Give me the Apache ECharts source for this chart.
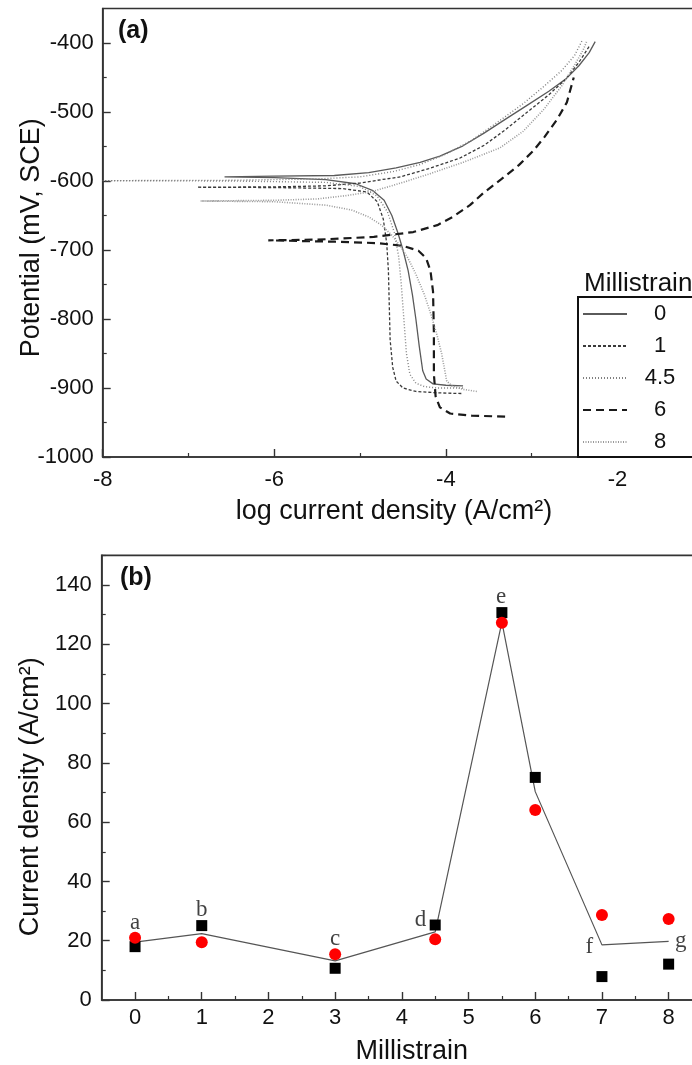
<!DOCTYPE html>
<html>
<head>
<meta charset="utf-8">
<script src="https://cdn.jsdelivr.net/npm/echarts@6/dist/echarts.min.js"></script>
<style>
  html, body { margin: 0; padding: 0; background: #fff; }
  #chart { width: 692px; height: 1065px; }
</style>
</head>
<body>
<div id="chart"></div>
<script>
// ---- panel (a): polarization curves, [log i, E (mV)] in scan order
const curve0 = [[-3.80,-897],[-4.00,-896],[-4.15,-894],[-4.23,-887],[-4.27,-875],[-4.31,-840],[-4.35,-800],[-4.39,-765],[-4.44,-730],[-4.50,-700],[-4.56,-675],[-4.63,-650],[-4.72,-628],[-4.85,-614],[-5.05,-604],[-5.40,-598],[-6.00,-595],[-6.58,-594],[-6.00,-593],[-5.30,-592],[-4.90,-588],[-4.58,-581],[-4.30,-573],[-4.07,-564],[-3.80,-549],[-3.56,-531],[-3.30,-510],[-3.05,-490],[-2.80,-470],[-2.60,-452],[-2.45,-433],[-2.33,-414],[-2.26,-398]];
const curve1 = [[-3.82,-908],[-4.10,-907],[-4.35,-905],[-4.50,-900],[-4.58,-890],[-4.62,-870],[-4.65,-830],[-4.66,-780],[-4.67,-730],[-4.69,-690],[-4.73,-655],[-4.80,-630],[-4.92,-616],[-5.20,-611],[-6.00,-609.5],[-6.90,-609],[-6.00,-608.5],[-5.40,-607],[-5.00,-603],[-4.75,-598],[-4.53,-594],[-4.20,-582],[-3.84,-567],[-3.55,-548],[-3.30,-525],[-3.05,-500],[-2.80,-475],[-2.60,-452],[-2.45,-428],[-2.33,-405]];
const curve45 = [[-3.80,-900],[-4.10,-900],[-4.25,-898],[-4.35,-893],[-4.42,-880],[-4.46,-850],[-4.49,-800],[-4.52,-750],[-4.55,-710],[-4.60,-675],[-4.68,-645],[-4.80,-622],[-5.00,-608],[-5.40,-602],[-6.50,-600],[-8.00,-599.5],[-6.50,-599],[-5.50,-597],[-5.00,-594],[-4.60,-586],[-4.30,-576],[-4.00,-561],[-3.70,-541],[-3.40,-515],[-3.10,-488],[-2.85,-462],[-2.65,-440],[-2.50,-418],[-2.41,-396]];
const curve6 = [[-3.31,-941.5],[-3.70,-940],[-3.95,-937],[-4.07,-928],[-4.12,-912],[-4.14,-880],[-4.14,-820],[-4.15,-760],[-4.18,-730],[-4.23,-712],[-4.32,-701],[-4.50,-694],[-4.80,-690],[-5.30,-688],[-6.07,-686],[-5.50,-685],[-4.84,-681],[-4.38,-674],[-4.10,-664],[-3.92,-652],[-3.72,-635],[-3.56,-617],[-3.35,-597],[-3.15,-577],[-2.98,-556],[-2.85,-536],[-2.70,-510],[-2.59,-486],[-2.51,-450]];
const curve8 = [[-3.64,-905],[-3.80,-902],[-3.93,-897],[-3.99,-890],[-4.02,-870],[-4.05,-850],[-4.10,-825],[-4.17,-795],[-4.25,-765],[-4.35,-735],[-4.45,-710],[-4.53,-695],[-4.62,-680],[-4.75,-664],[-4.90,-652],[-5.10,-642],[-5.40,-635],[-6.00,-630],[-6.86,-629],[-6.00,-628],[-5.50,-626],[-5.15,-621],[-4.85,-615],[-4.50,-602],[-4.20,-590],[-3.80,-573],[-3.37,-552],[-3.10,-528],[-2.85,-495],[-2.65,-462],[-2.50,-432],[-2.40,-410],[-2.36,-398]];

const xTicksA = [-8, -6, -4, -2];
const xMinorA = [-7, -5, -3];
const yTicksA = [-1000, -900, -800, -700, -600, -500, -400];
const yMinorA = [-950, -850, -750, -650, -550, -450];

// ---- panel (b): current density vs millistrain
const strain = [0, 1, 3, 4.5, 5.5, 6, 7, 8];
const squares = [18.0, 25.1, 10.7, 25.3, 130.7, 75.1, 7.9, 12.1];
const circles = [21.0, 19.5, 15.4, 20.5, 127.3, 64.1, 28.7, 27.3];
const trend = [19.5, 22.4, 13.2, 23.0, 127.5, 70.3, 18.6, 19.8];
const pointLabels = [[0, 25.9, 'a'], [1, 30.4, 'b'], [3, 20.6, 'c'], [4.28, 27.0, 'd'], [5.49, 136.1, 'e'], [6.81, 18.0, 'f'], [8.18, 19.9, 'g']];

const xTicksB = [0, 1, 2, 3, 4, 5, 6, 7, 8];
const xMinorB = [0.5, 1.5, 2.5, 3.5, 4.5, 5.5, 6.5, 7.5, 8.5];
const yTicksB = [0, 20, 40, 60, 80, 100, 120, 140];
const yMinorB = [10, 30, 50, 70, 90, 110, 130, 150];

const font = 'Liberation Sans, Arial, sans-serif';
const axisColor = '#333';

function mainAxis(grid, pos, min, max, ticks, extra) {
  return Object.assign({
    type: 'value', gridIndex: grid, position: pos, min: min, max: max,
    axisLine: { show: true, onZero: false, lineStyle: { color: axisColor, width: 1.6 } },
    axisTick: { show: true, inside: true, length: 8, customValues: ticks, lineStyle: { color: axisColor, width: 1.4 } },
    splitLine: { show: false },
    nameLocation: 'middle',
    nameMoveOverlap: false
  }, extra);
}

function minorAxis(grid, pos, min, max, ticks) {
  return {
    type: 'value', gridIndex: grid, position: pos, min: min, max: max,
    axisLine: { show: false, onZero: false },
    axisTick: { show: true, inside: true, length: 4, customValues: ticks, lineStyle: { color: axisColor, width: 1.2 } },
    axisLabel: { show: false },
    splitLine: { show: false }
  };
}

function labelStyle(ticks, margin) {
  return { customValues: ticks, formatter: v => String(v), fontFamily: font, fontSize: 22, color: '#111', margin: margin };
}

function nameStyle(pad) {
  return { fontFamily: font, fontSize: 27, color: '#111', padding: pad };
}

const chart = echarts.init(document.getElementById('chart'));

const curveSeries = [
  { name: '0', data: curve0, color: '#5a5a5a', lineStyle: { color: '#5a5a5a', width: 1.3, type: 'solid' } },
  { name: '1', data: curve1, color: '#3a3a3a', lineStyle: { color: '#3a3a3a', width: 1.3, type: [3, 2] } },
  { name: '4.5', data: curve45, color: '#808080', lineStyle: { color: '#808080', width: 1.4, type: [1, 2] } },
  { name: '6', data: curve6, color: '#1a1a1a', lineStyle: { color: '#1a1a1a', width: 2.2, type: [8, 5] } },
  { name: '8', data: curve8, color: '#999', lineStyle: { color: '#999', width: 1.6, type: [1, 1.5] } }
].map(s => Object.assign({
  type: 'line', xAxisIndex: 0, yAxisIndex: 0, symbol: 'none', showSymbol: false,
  silent: true, emphasis: { disabled: true }, z: 2
}, s));

const option = {
  animation: false,
  backgroundColor: '#fff',
  grid: [
    { left: 102.7, top: 8.5, width: 600.6, height: 448.5, outerBoundsMode: 'none', containLabel: false,
      show: true, borderColor: axisColor, borderWidth: 1.6, backgroundColor: 'transparent' },
    { left: 101.7, top: 555.4, width: 620.3, height: 444.6, outerBoundsMode: 'none', containLabel: false,
      show: true, borderColor: axisColor, borderWidth: 1.6, backgroundColor: 'transparent' }
  ],
  xAxis: [
    mainAxis(0, 'bottom', -8, -1, xTicksA, {
      name: 'log current density (A/cm²)', nameGap: 41,
      axisLabel: labelStyle(xTicksA, 12),
      nameTextStyle: nameStyle([0, 18, 0, 0])
    }),
    minorAxis(0, 'bottom', -8, -1, xMinorA),
    mainAxis(1, 'bottom', -0.5, 8.8, xTicksB, {
      name: 'Millistrain', nameGap: 38,
      axisLabel: labelStyle(xTicksB, 7),
      nameTextStyle: nameStyle([0, 0, 0, 0])
    }),
    minorAxis(1, 'bottom', -0.5, 8.8, xMinorB)
  ],
  yAxis: [
    mainAxis(0, 'left', -1000, -350, yTicksA, {
      name: 'Potential (mV, SCE)', nameGap: 58,
      axisLabel: labelStyle(yTicksA, 9),
      nameTextStyle: nameStyle([0, 10, 0, 0])
    }),
    minorAxis(0, 'left', -1000, -350, yMinorA),
    mainAxis(1, 'left', 0, 150, yTicksB, {
      name: 'Current density (A/cm²)', nameGap: 58,
      axisLabel: labelStyle(yTicksB, 10),
      nameTextStyle: nameStyle([0, 38, 0, 0])
    }),
    minorAxis(1, 'left', 0, 150, yMinorB)
  ],
  legend: {
    data: ['0', '1', '4.5', '6', '8'],
    orient: 'vertical',
    left: 582, top: 303,
    padding: 0,
    itemWidth: 44, itemHeight: 14, itemGap: 10,
    z: 10,
    selectedMode: false,
    itemStyle: { opacity: 0 },
    formatter: name => '{c|' + name + '}',
    textStyle: {
      fontFamily: font, fontSize: 22, color: '#111',
      rich: { c: { width: 56, align: 'center', fontFamily: font, fontSize: 22, color: '#111' } }
    }
  },
  graphic: [
    { type: 'rect', z: 8, shape: { x: 578, y: 297, width: 130, height: 160 }, style: { fill: '#fff', stroke: '#111', lineWidth: 2 } },
    { type: 'text', z: 8, left: 584, top: 271, style: { text: 'Millistrain', font: '26px ' + font, fill: '#111' } },
    { type: 'text', z: 8, left: 118, top: 19, style: { text: '(a)', font: 'bold 25px ' + font, fill: '#111' } },
    { type: 'text', z: 8, left: 120, top: 566, style: { text: '(b)', font: 'bold 25px ' + font, fill: '#111' } }
  ],
  series: curveSeries.concat([
    {
      name: 'trend', type: 'line', xAxisIndex: 2, yAxisIndex: 2,
      data: strain.map((x, i) => [x, trend[i]]),
      symbol: 'none', lineStyle: { color: '#555', width: 1.2 }, silent: true, z: 2
    },
    {
      name: 'squares', type: 'scatter', xAxisIndex: 2, yAxisIndex: 2,
      data: strain.map((x, i) => [x, squares[i]]),
      symbol: 'rect', symbolSize: 11, itemStyle: { color: '#000', opacity: 1 }, silent: true, z: 3
    },
    {
      name: 'circles', type: 'scatter', xAxisIndex: 2, yAxisIndex: 2,
      data: strain.map((x, i) => [x, circles[i]]),
      symbol: 'circle', symbolSize: 12, itemStyle: { color: '#f00', opacity: 1 }, silent: true, z: 4
    },
    {
      name: 'labels', type: 'scatter', xAxisIndex: 2, yAxisIndex: 2,
      data: pointLabels,
      symbolSize: 1, itemStyle: { color: 'rgba(0,0,0,0)' }, silent: true, z: 5,
      label: {
        show: true, position: 'inside', formatter: p => p.value[2],
        fontFamily: 'Liberation Serif, Times New Roman, serif', fontSize: 23, color: '#111'
      }
    }
  ])
};

chart.setOption(option);
</script>
</body>
</html>
